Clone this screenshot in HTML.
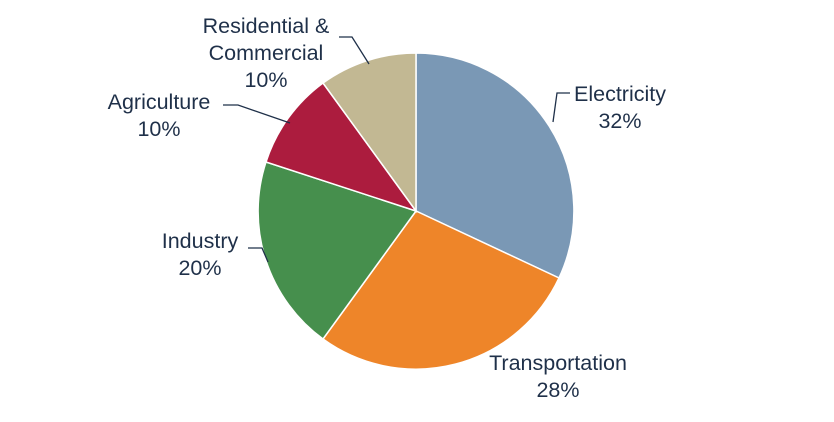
<!DOCTYPE html>
<html><head><meta charset="utf-8"><style>html,body{margin:0;padding:0;background:#fff}svg{display:block}</style></head>
<body>
<svg width="834" height="422" viewBox="0 0 834 422" xmlns="http://www.w3.org/2000/svg">
<g stroke="#fff" stroke-width="1.5">
<path d="M416,211 L416,53 A158,158 0 0 1 559,278 Z" fill="#7a98b5"/>
<path d="M416,211 L559,278 A158,158 0 0 1 323,339 Z" fill="#ee8529"/>
<path d="M416,211 L323,339 A158,158 0 0 1 266,162 Z" fill="#468f4d"/>
<path d="M416,211 L266,162 A158,158 0 0 1 323,83 Z" fill="#ac1c3e"/>
<path d="M416,211 L323,83 A158,158 0 0 1 416,53 Z" fill="#c2b893"/>
</g>
<g stroke="#1f3049" stroke-width="1.3" fill="none">
<polyline points="339,37 352,37 369,64"/>
<polyline points="223,105 238,105 290,123"/>
<polyline points="248,248 262,248 268,262"/>
<polyline points="570,93 557,93 553,122"/>
</g>
<g font-family="Liberation Sans, sans-serif" font-size="21.5" fill="#1f3049" text-anchor="middle">
<text x="266" y="33">Residential &amp;</text>
<text x="266" y="60">Commercial</text>
<text x="266" y="87">10%</text>
<text x="159" y="109">Agriculture</text>
<text x="159" y="136">10%</text>
<text x="200" y="248">Industry</text>
<text x="200" y="275">20%</text>
<text x="620" y="101">Electricity</text>
<text x="620" y="128">32%</text>
<text x="558" y="370">Transportation</text>
<text x="558" y="397">28%</text>
</g>
</svg>
</body></html>
